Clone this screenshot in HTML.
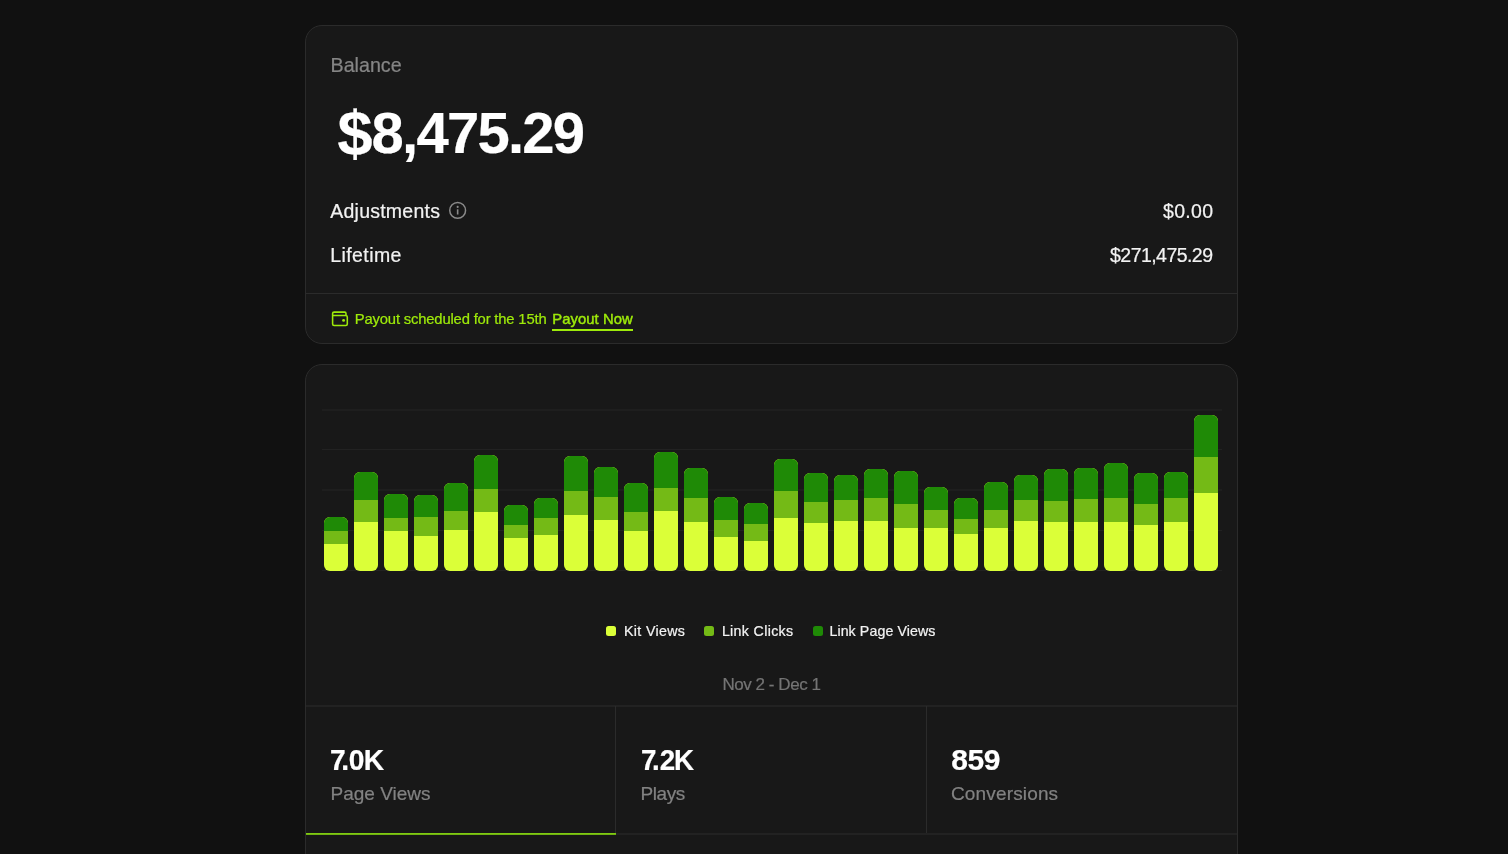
<!DOCTYPE html>
<html lang="en"><head><meta charset="utf-8"><title>Balance</title>
<style>
*{box-sizing:border-box;margin:0;padding:0}
html,body{width:1508px;height:854px;overflow:hidden;background:#111111}
body{font-family:"Liberation Sans",sans-serif;color:#fff;position:relative}
.card{position:absolute;left:305px;width:933px;background:#181818;border:1px solid #2b2b2b;border-radius:17px}
#c1{top:25px;height:319px}
#c2{top:364px;height:520px}
.abs{position:absolute;white-space:nowrap;line-height:1;-webkit-text-stroke:.22px currentColor}
.hl{position:absolute;height:1px;background:#2b2b2b}
.vl{position:absolute;width:1px;background:#2b2b2b}
.grid{position:absolute;left:322px;width:900px;height:1px;background:#222222}
.bar{position:absolute;width:23.5px;border-radius:6px;overflow:hidden;background:#dbff38}
.bar i{display:block;background:#1f8a06}
.bar b{display:block;background:#74ba16}
.sq{position:absolute;width:10px;height:10px;border-radius:2.5px}
.lime{color:#9eea0a}
</style></head><body>
<div class="card" id="c1"></div>
<div class="card" id="c2"></div>

<div class="abs" id="t-balance" style="left:330.5px;top:56px;font-size:19.7px;color:#858585">Balance</div>
<div class="abs" id="t-amount" style="left:337.5px;top:104px;font-size:58px;font-weight:700;letter-spacing:-1.75px"><span style="font-size:63px;line-height:0;vertical-align:-1.5px;letter-spacing:-1px">$</span>8,475.29</div>
<div class="abs" id="t-adj" style="left:330.3px;top:202.4px;font-size:19.5px;letter-spacing:.23px;color:#f2f2f2">Adjustments</div>
<svg class="abs" id="i-info" style="left:447.5px;top:201px" width="19" height="19" viewBox="0 0 19 19" fill="none"><circle cx="9.65" cy="9.4" r="7.9" stroke="#8a8a8a" stroke-width="1.5"/><rect x="8.85" y="8.3" width="1.6" height="5.2" fill="#8a8a8a"/><circle cx="9.65" cy="5.9" r="1.05" fill="#8a8a8a"/></svg>
<div class="abs" id="t-adjv" style="right:295px;top:202.4px;font-size:19.5px;letter-spacing:.3px;margin-right:-.3px;color:#f2f2f2">$0.00</div>
<div class="abs" id="t-life" style="left:330.3px;top:246.4px;font-size:19.5px;letter-spacing:.4px;color:#f2f2f2">Lifetime</div>
<div class="abs" id="t-lifev" style="right:295px;top:246.4px;font-size:19.5px;letter-spacing:-.55px;margin-right:.55px;color:#f2f2f2">$271,475.29</div>
<div class="hl" style="left:306px;width:931px;top:293px"></div>
<svg class="abs" id="i-wallet" style="left:330px;top:309px" width="20" height="19" viewBox="0 0 20 19" fill="none" stroke="#9eea0a" stroke-width="1.55"><path d="M2.6 6.4H15.8a1.5 1.5 0 0 1 1.5 1.5V15a1.5 1.5 0 0 1-1.5 1.5H4.1a1.5 1.5 0 0 1-1.5-1.5V4.6a1.5 1.5 0 0 1 1.5-1.5H14.7a1.3 1.3 0 0 1 1.3 1.3V6.4"/><circle cx="13.6" cy="11.4" r="1.45" fill="#9eea0a" stroke="none"/></svg>
<div class="abs lime" id="t-pay" style="left:354.8px;top:312.3px;font-size:14.8px;letter-spacing:-.17px">Payout scheduled for the 15th</div>
<div class="abs lime" id="t-paynow" style="left:552.2px;top:312.3px;font-size:14.8px;-webkit-text-stroke:.45px #9eea0a;letter-spacing:.08px">Payout Now</div>
<div class="abs" style="left:552px;top:329px;width:81px;height:2px;background:#9eea0a"></div>

<div class="grid" style="top:409px;height:2px;background:#1e1e1e"></div>
<div class="grid" style="top:449px"></div>
<div class="grid" style="top:489px;height:2px;background:#1e1e1e"></div>
<div class="grid" style="top:530px"></div>
<div class="grid" style="top:570px"></div>
<div class="bar" style="left:324.1px;top:516.5px;height:54.1px"><i style="height:14.2px"></i><b style="height:13.1px"></b></div>
<div class="bar" style="left:354.1px;top:472.1px;height:98.5px"><i style="height:28.1px"></i><b style="height:22.1px"></b></div>
<div class="bar" style="left:384.1px;top:494.3px;height:76.3px"><i style="height:23.3px"></i><b style="height:13.1px"></b></div>
<div class="bar" style="left:414.1px;top:495.4px;height:75.2px"><i style="height:21.5px"></i><b style="height:18.7px"></b></div>
<div class="bar" style="left:444.1px;top:483.4px;height:87.2px"><i style="height:27.3px"></i><b style="height:18.9px"></b></div>
<div class="bar" style="left:474.1px;top:455.4px;height:115.2px"><i style="height:33.3px"></i><b style="height:22.9px"></b></div>
<div class="bar" style="left:504.1px;top:505.4px;height:65.2px"><i style="height:19.7px"></i><b style="height:12.7px"></b></div>
<div class="bar" style="left:534.0px;top:498.1px;height:72.5px"><i style="height:19.9px"></i><b style="height:16.9px"></b></div>
<div class="bar" style="left:564.0px;top:455.8px;height:114.8px"><i style="height:35.5px"></i><b style="height:23.4px"></b></div>
<div class="bar" style="left:594.0px;top:467.4px;height:103.2px"><i style="height:29.7px"></i><b style="height:22.7px"></b></div>
<div class="bar" style="left:624.0px;top:483.4px;height:87.2px"><i style="height:28.4px"></i><b style="height:18.9px"></b></div>
<div class="bar" style="left:654.0px;top:452.3px;height:118.3px"><i style="height:35.9px"></i><b style="height:22.7px"></b></div>
<div class="bar" style="left:684.0px;top:468.0px;height:102.6px"><i style="height:30.2px"></i><b style="height:24.1px"></b></div>
<div class="bar" style="left:714.0px;top:496.7px;height:73.9px"><i style="height:23.6px"></i><b style="height:17.1px"></b></div>
<div class="bar" style="left:744.0px;top:502.8px;height:67.8px"><i style="height:21.2px"></i><b style="height:16.9px"></b></div>
<div class="bar" style="left:774.0px;top:458.7px;height:111.9px"><i style="height:32.6px"></i><b style="height:27.2px"></b></div>
<div class="bar" style="left:804.0px;top:472.5px;height:98.1px"><i style="height:29.5px"></i><b style="height:21.4px"></b></div>
<div class="bar" style="left:834.0px;top:475.4px;height:95.2px"><i style="height:24.4px"></i><b style="height:20.9px"></b></div>
<div class="bar" style="left:864.0px;top:469.4px;height:101.2px"><i style="height:28.8px"></i><b style="height:22.7px"></b></div>
<div class="bar" style="left:894.0px;top:470.9px;height:99.7px"><i style="height:33.3px"></i><b style="height:24.3px"></b></div>
<div class="bar" style="left:924.0px;top:486.5px;height:84.1px"><i style="height:23.5px"></i><b style="height:17.8px"></b></div>
<div class="bar" style="left:954.0px;top:498.3px;height:72.3px"><i style="height:20.6px"></i><b style="height:15.4px"></b></div>
<div class="bar" style="left:984.0px;top:481.6px;height:89.0px"><i style="height:28.4px"></i><b style="height:18.3px"></b></div>
<div class="bar" style="left:1014.0px;top:474.5px;height:96.1px"><i style="height:25.3px"></i><b style="height:21.1px"></b></div>
<div class="bar" style="left:1044.0px;top:468.7px;height:101.9px"><i style="height:32.2px"></i><b style="height:21.4px"></b></div>
<div class="bar" style="left:1074.0px;top:467.8px;height:102.8px"><i style="height:31.1px"></i><b style="height:23.4px"></b></div>
<div class="bar" style="left:1104.0px;top:462.7px;height:107.9px"><i style="height:35.5px"></i><b style="height:23.6px"></b></div>
<div class="bar" style="left:1134.0px;top:472.9px;height:97.7px"><i style="height:31.1px"></i><b style="height:21.1px"></b></div>
<div class="bar" style="left:1164.0px;top:472.3px;height:98.3px"><i style="height:25.7px"></i><b style="height:24.5px"></b></div>
<div class="bar" style="left:1194.0px;top:415.3px;height:155.3px"><i style="height:42.2px"></i><b style="height:35.8px"></b></div>

<div class="sq" style="left:606px;top:626px;background:#dbff38"></div>
<div class="abs" id="t-l1" style="left:624px;top:624.3px;font-size:14.2px;letter-spacing:.36px;color:#f2f2f2">Kit Views</div>
<div class="sq" style="left:704px;top:626px;background:#74ba16"></div>
<div class="abs" id="t-l2" style="left:721.9px;top:624.3px;font-size:14.2px;letter-spacing:.34px;color:#f2f2f2">Link Clicks</div>
<div class="sq" style="left:813px;top:626px;background:#1f8a06"></div>
<div class="abs" id="t-l3" style="left:829.4px;top:624.3px;font-size:14.2px;letter-spacing:.1px;color:#f2f2f2">Link Page Views</div>
<div class="abs" id="t-date" style="left:722.4px;top:676.1px;font-size:17px;letter-spacing:-.45px;color:#747474">Nov 2 - Dec 1</div>

<div class="hl" style="left:306px;width:931px;top:705px;height:2px;background:#222"></div>
<div class="hl" style="left:306px;width:931px;top:833px;height:2px;background:#222"></div>
<div class="vl" style="left:615px;top:706px;height:127px"></div>
<div class="vl" style="left:925.5px;top:706px;height:127px"></div>
<div class="abs" style="left:306px;top:833px;width:310px;height:2px;background:linear-gradient(#80ca12 50%,#6fb210 50%)"></div>

<div class="abs" id="t-s1" style="left:330.3px;top:745.4px;transform:scaleX(.94);transform-origin:0 0;font-size:30px;font-weight:700;letter-spacing:0px"><span style="letter-spacing:-4.6px">7</span><span style="letter-spacing:-.4px">.</span><span style="letter-spacing:-.9px">0</span>K</div>
<div class="abs" id="t-s1l" style="left:330.5px;top:784.2px;font-size:19px;letter-spacing:0px;color:#828282">Page Views</div>
<div class="abs" id="t-s2" style="left:640.9px;top:745.4px;transform:scaleX(.925);transform-origin:0 0;font-size:30px;font-weight:700;letter-spacing:0px"><span style="letter-spacing:-4.9px">7</span><span style="letter-spacing:0px">.</span><span style="letter-spacing:-1.1px">2</span>K</div>
<div class="abs" id="t-s2l" style="left:640.5px;top:784.2px;font-size:19px;letter-spacing:-.4px;color:#828282">Plays</div>
<div class="abs" id="t-s3" style="left:951.3px;top:745.4px;font-size:30px;font-weight:700;letter-spacing:-.5px">859</div>
<div class="abs" id="t-s3l" style="left:951px;top:784.2px;font-size:19px;letter-spacing:.15px;color:#828282">Conversions</div>
</body></html>
